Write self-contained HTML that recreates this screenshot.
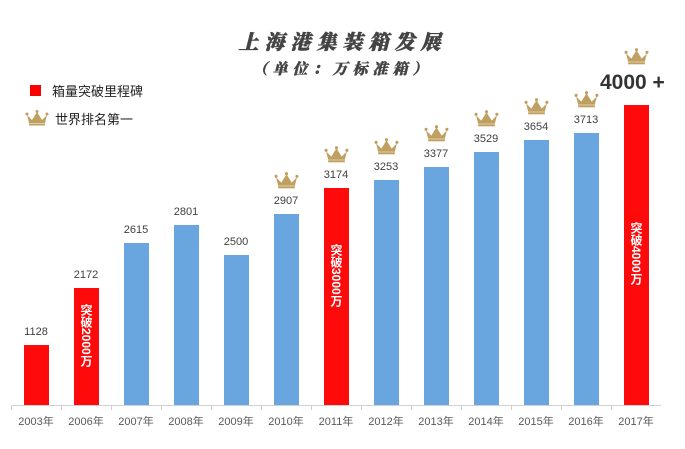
<!DOCTYPE html><html><head><meta charset="utf-8"><style>
body{margin:0;width:685px;height:449px;background:#fff;position:relative;overflow:hidden;font-family:"Liberation Sans","Noto Sans CJK SC",sans-serif}
.a{position:absolute}
.bar{position:absolute;width:25px;bottom:44px}
.lbl{position:absolute;width:50px;text-align:center;font-size:11px;color:#404040}
.x{position:absolute;top:413px;width:50px;text-align:center;font-size:11px;color:#595959}
.v{position:absolute;writing-mode:vertical-rl;color:#fff;font-weight:bold;font-size:12px;width:25px;line-height:25px;text-align:center}
.crown{position:absolute;width:25px;height:17px}
</style></head><body>
<div class="a" style="left:0;width:685px;top:26px;text-align:center;font-size:20px;font-weight:900;color:#444;font-family:'Noto Serif CJK SC',serif;letter-spacing:6px;font-style:italic;-webkit-text-stroke:0.6px #444">上海港集装箱发展</div>
<div class="a" style="left:0;width:685px;top:58px;text-align:center;font-size:15px;font-weight:900;color:#444;font-family:'Noto Serif CJK SC',serif;letter-spacing:5px;font-style:italic;-webkit-text-stroke:0.4px #444">（单位：万标准箱）</div>
<div class="a" style="left:30px;top:85px;width:11px;height:11px;background:#ff0000"></div>
<div class="a" style="left:52px;top:81px;font-size:13px;color:#222">箱量突破里程碑</div>
<svg class="a" style="left:25px;top:110px" width="24" height="16" viewBox="0 0 24 16"><path d="M2 5 L7 10 L12 2 L17 10 L22 5 L20 13 L4 13 Z" fill="#bfa060"/><circle cx="2" cy="4" r="1.5" fill="#bfa060"/><circle cx="12" cy="1.5" r="1.5" fill="#bfa060"/><circle cx="22" cy="4" r="1.5" fill="#bfa060"/><rect x="4" y="13.5" width="16" height="2" fill="#bfa060"/></svg>
<div class="a" style="left:55px;top:109px;font-size:13px;color:#222">世界排名第一</div>
<div class="a" style="left:11px;top:405px;width:650px;height:1px;background:#d0d0d0"></div>
<div id="c"></div>
<script>
var d=[["2003",1128,345,1],["2006",2172,288,1],["2007",2615,243,0],["2008",2801,225,0],["2009",2500,255,0],["2010",2907,214,0,1],["2011",3174,188,1,1],["2012",3253,180,0,1],["2013",3377,167,0,1],["2014",3529,152,0,1],["2015",3654,140,0,1],["2016",3713,133,0,1],["2017",4000,105,1,1]];
var h="";
for(var i=0;i<d.length;i++){var c=36+50*i,t=d[i][2];
h+='<div class="a" style="left:'+(11+50*i)+'px;top:405px;width:1px;height:5px;background:#d0d0d0"></div>';
h+='<div class="bar" style="left:'+(c-12.5)+'px;top:'+t+'px;background:'+(d[i][3]?'#ff0a0a':'#69a5de')+'"></div>';
if(i<12)h+='<div class="lbl" style="left:'+(c-25)+'px;top:'+(t-19)+'px">'+d[i][1]+'</div>';
h+='<div class="x" style="left:'+(c-25)+'px">'+d[i][0]+'年</div>';
if(d[i][4]){var cy=i==12?48:t-42;h+='<svg class="crown" style="left:'+(c-12.5)+'px;top:'+cy+'px" viewBox="0 0 24 16"><path d="M2 5 L7 10 L12 2 L17 10 L22 5 L20 13 L4 13 Z" fill="#bfa060"/><circle cx="2" cy="4" r="1.5" fill="#bfa060"/><circle cx="12" cy="1.5" r="1.5" fill="#bfa060"/><circle cx="22" cy="4" r="1.5" fill="#bfa060"/><rect x="4" y="13.5" width="16" height="2" fill="#bfa060"/></svg>';}
}
h+='<div class="a" style="left:600px;top:71px;font-size:21px;font-weight:bold;color:#333">4000 +</div>';
h+='<div class="v" style="left:73px;top:304px">突破2000万</div>';
h+='<div class="v" style="left:323px;top:244px">突破3000万</div>';
h+='<div class="v" style="left:623px;top:222px">突破4000万</div>';
document.getElementById("c").innerHTML=h;
</script>
</body></html>
